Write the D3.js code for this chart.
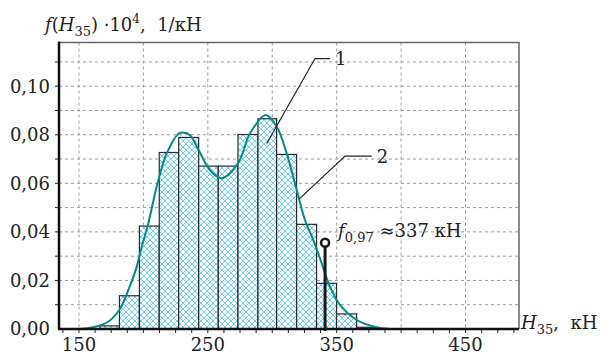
<!DOCTYPE html>
<html lang="ru">
<head>
    <meta charset="UTF-8">
    <title>f(H35) histogram</title>
    <script src="https://d3js.org/d3.v7.min.js"></script>
    <style>
        body { margin: 0; background: #fff; }
        svg text { font-family: "DejaVu Serif", serif; fill: #222; }
    </style>
</head>
<body>
    <div id="chart"></div>

    <script>
        const width = 603;
        const height = 355;

        // histogram bin edges, kN
        const binEdges = [166.3, 181.4, 196.9, 212.3, 227.4, 242.9, 258.1, 273.4, 288.9, 303.4, 318.9, 334.4, 349.9, 365.5, 381.0];
        // relative frequency density (x 10^4), one per bin
        const binValues = [0.0013, 0.0137, 0.0424, 0.0727, 0.0789, 0.0671, 0.0671, 0.0801, 0.0866, 0.0719, 0.0431, 0.0188, 0.0062, 0.0007];

        // fitted density curve (2)
        const curveX = [150.8, 162.4, 172.7, 181.3, 188.3, 194.8, 198.7, 203.8, 209.0, 211.6, 218.1, 227.4, 230.5, 236.2, 242.9, 251.7, 260.8, 273.4, 282.7, 294.9, 303.5, 311.2, 319.0, 325.4, 331.9, 338.4, 344.8, 352.6, 365.6, 381.1, 391.4];
        const curveY = [0.0, 0.0009, 0.003, 0.0078, 0.016, 0.0256, 0.0339, 0.0435, 0.0558, 0.0613, 0.0723, 0.0805, 0.0809, 0.0798, 0.0737, 0.0654, 0.0621, 0.0682, 0.0805, 0.0881, 0.0833, 0.0723, 0.0572, 0.0449, 0.0366, 0.027, 0.0174, 0.0099, 0.0037, 0.0007, 0.0];

        // axis ticks
        const xLabels = [150, 250, 350, 450];
        const xGrid = [150, 200, 250, 300, 350, 400, 450];
        const xMinor = d3.range(137.5, 491, 12.5);
        const yLabels = [0, 0.02, 0.04, 0.06, 0.08, 0.10];
        const yGrid = [0.01, 0.02, 0.03, 0.04, 0.05, 0.06, 0.07, 0.08, 0.09, 0.10, 0.11];

        // quantile marker
        const q97 = { x: 341, y: 0.0355 };

        const x = d3.scaleLinear().domain([134.5, 491.5]).range([59, 519]);
        const y = d3.scaleLinear().domain([0, 0.118]).range([329, 42.5]);
        const fmt = d => d.toFixed(2).replace(".", ",");

        const svg = d3.select("#chart")
            .append("svg")
            .attr("width", width)
            .attr("height", height);

        // cross hatch fill
        const pat = svg.append("defs").append("pattern")
            .attr("id", "hatch")
            .attr("width", 6).attr("height", 6)
            .attr("patternUnits", "userSpaceOnUse");
        pat.append("rect").attr("width", 6).attr("height", 6).attr("fill", "#f7fcff");
        pat.append("path")
            .attr("d", "M-1,1L1,-1M0,6L6,0M5,7L7,5M-1,5L1,7M0,0L6,6M5,-1L7,1")
            .attr("stroke", "#6ac9f7")
            .attr("stroke-width", 0.95);

        // grid
        svg.append("g").selectAll("line")
            .data(yGrid)
            .join("line")
            .attr("x1", x.range()[0]).attr("x2", x.range()[1])
            .attr("y1", d => y(d)).attr("y2", d => y(d))
            .attr("stroke", "#9a9a9a")
            .attr("stroke-dasharray", "3,3");
        svg.append("g").selectAll("line")
            .data(xGrid)
            .join("line")
            .attr("x1", d => x(d)).attr("x2", d => x(d))
            .attr("y1", y.range()[1]).attr("y2", y.range()[0])
            .attr("stroke", "#9a9a9a")
            .attr("stroke-dasharray", "3,3");

        // histogram (1)
        svg.append("g").selectAll("rect")
            .data(binValues)
            .join("rect")
            .attr("x", (d, i) => x(binEdges[i]))
            .attr("width", (d, i) => x(binEdges[i + 1]) - x(binEdges[i]))
            .attr("y", d => y(d))
            .attr("height", d => y(0) - y(d))
            .attr("fill", "url(#hatch)")
            .attr("stroke", "#2a2a2a")
            .attr("stroke-width", 1.2);

        // density curve (2)
        const line = d3.line()
            .x(d => x(d[0]))
            .y(d => y(d[1]))
            .curve(d3.curveCatmullRom.alpha(0.5));
        svg.append("path")
            .datum(curveX.map((v, i) => [v, curveY[i]]))
            .attr("d", line)
            .attr("fill", "none")
            .attr("stroke", "#008b8b")
            .attr("stroke-width", 2);

        // frame: thin top/right, thick left/bottom
        svg.append("path")
            .attr("d", `M${x.range()[0]},${y.range()[1]}H${x.range()[1]}V${y.range()[0]}`)
            .attr("fill", "none")
            .attr("stroke", "#666")
            .attr("stroke-width", 1.5);

        const xAxis = svg.append("g").attr("transform", `translate(0,${y(0)})`);
        xAxis.selectAll("line")
            .data(xMinor)
            .join("line")
            .attr("x1", d => x(d)).attr("x2", d => x(d))
            .attr("y1", 0).attr("y2", 4)
            .attr("stroke", "#222");
        xAxis.append("line")
            .attr("x1", x.range()[0] - 1).attr("x2", x.range()[1])
            .attr("stroke", "#111").attr("stroke-width", 2.5);
        xAxis.selectAll("text")
            .data(xLabels)
            .join("text")
            .attr("x", d => x(d))
            .attr("y", 22)
            .attr("text-anchor", "middle")
            .attr("font-size", 18)
            .text(d => d);

        const yAxis = svg.append("g").attr("transform", `translate(${x.range()[0]},0)`);
        yAxis.selectAll("line")
            .data(yGrid)
            .join("line")
            .attr("x1", -4).attr("x2", 0)
            .attr("y1", d => y(d)).attr("y2", d => y(d))
            .attr("stroke", "#222");
        yAxis.append("line")
            .attr("y1", y.range()[1] - 1).attr("y2", y.range()[0] + 1)
            .attr("stroke", "#111").attr("stroke-width", 2.5);
        yAxis.selectAll("text")
            .data(yLabels)
            .join("text")
            .attr("x", -9)
            .attr("y", d => y(d))
            .attr("dy", "0.36em")
            .attr("text-anchor", "end")
            .attr("font-size", 18)
            .text(fmt);

        // axis titles
        const yTitle = svg.append("text").attr("x", 45).attr("y", 31).attr("font-size", 18);
        yTitle.append("tspan").attr("font-style", "italic").text("f");
        yTitle.append("tspan").text("(");
        yTitle.append("tspan").attr("font-style", "italic").text("H");
        yTitle.append("tspan").attr("font-size", 13).attr("dy", 5).text("35");
        yTitle.append("tspan").attr("dy", -5).text(") ·10");
        yTitle.append("tspan").attr("font-size", 12).attr("dy", -8).text("4");
        yTitle.append("tspan").attr("dy", 8).text(",\u00a0 1/кН");

        const xTitle = svg.append("text").attr("x", 521).attr("y", 329).attr("font-size", 18);
        xTitle.append("tspan").attr("font-style", "italic").text("H");
        xTitle.append("tspan").attr("font-size", 13).attr("dy", 5).text("35");
        xTitle.append("tspan").attr("dy", -5).text(",\u00a0 кН");

        // leader lines for labels 1 and 2
        const leaders = [
            { label: "1", pts: [[295.7, 0.0764], [333.2, 0.1114], [344.8, 0.1114]] },
            { label: "2", pts: [[320.8, 0.0535], [356.5, 0.0712], [377.2, 0.0712]] }
        ];
        leaders.forEach(l => {
            svg.append("path")
                .attr("d", d3.line().x(p => x(p[0])).y(p => y(p[1]))(l.pts))
                .attr("fill", "none")
                .attr("stroke", "#222")
                .attr("stroke-width", 1.2);
            const end = l.pts[l.pts.length - 1];
            svg.append("text")
                .attr("x", x(end[0]) + 5)
                .attr("y", y(end[1]))
                .attr("dy", "0.36em")
                .attr("font-size", 18)
                .text(l.label);
        });

        // 0.97 quantile marker
        svg.append("line")
            .attr("x1", x(q97.x)).attr("x2", x(q97.x))
            .attr("y1", y(0) + 2).attr("y2", y(q97.y))
            .attr("stroke", "#1a1a1a")
            .attr("stroke-width", 3);
        svg.append("circle")
            .attr("cx", x(q97.x)).attr("cy", y(q97.y))
            .attr("r", 4)
            .attr("fill", "#fff")
            .attr("stroke", "#1a1a1a")
            .attr("stroke-width", 2.5);
        const qText = svg.append("text").attr("x", x(q97.x) + 13).attr("y", 237).attr("font-size", 18);
        qText.append("tspan").attr("font-style", "italic").text("f");
        qText.append("tspan").attr("font-size", 13).attr("dy", 5).text("0,97");
        qText.append("tspan").attr("dy", -5).text(" ≈337 кН");
    </script>
</body>
</html>
